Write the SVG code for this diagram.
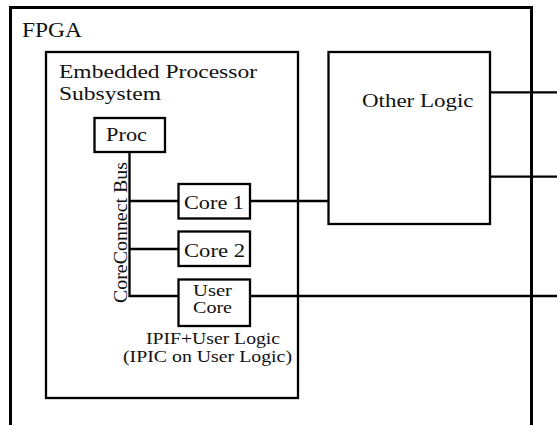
<svg xmlns="http://www.w3.org/2000/svg" width="557" height="425" viewBox="0 0 557 425">
<style>
  .box { fill: #fff; stroke: #000; stroke-width: 2.3; }
  .frame { fill: none; stroke: #000; stroke-width: 3; }
  .wire { fill: none; stroke: #000; stroke-width: 2.3; }
  text { font-family: "Liberation Serif", "Times New Roman", serif; font-size: 19px; fill: #111; }
  .tight { font-size: 17px; }
  .note { font-size: 16px; }
</style>
<rect width="557" height="425" fill="#fff"/>
<g id="fpga">
  <path class="frame" d="M10.5,427 V7.5 H531.5 V427"/>
  <text x="22" y="37.3" style="font-size:22px" textLength="60" lengthAdjust="spacingAndGlyphs">FPGA</text>
</g>
<g id="eps">
  <rect class="box" x="46" y="52" width="252" height="346"/>
  <text x="59" y="77.7" textLength="198" lengthAdjust="spacingAndGlyphs">Embedded Processor</text>
  <text x="59" y="100" textLength="102" lengthAdjust="spacingAndGlyphs">Subsystem</text>
</g>
<g id="other">
  <rect class="box" x="328.5" y="52" width="161.5" height="172"/>
  <text x="362" y="106.7" textLength="111.5" lengthAdjust="spacingAndGlyphs">Other Logic</text>
</g>
<g id="connectors">
  <path class="wire" d="M129.5,152 V296 H178.5"/>
  <path class="wire" d="M129.5,201 H178.5"/>
  <path class="wire" d="M129.5,249 H178.5"/>
  <path class="wire" d="M250,201 H328.5"/>
  <path class="wire" d="M250,296 H557"/>
  <path class="wire" d="M490,92.3 H557"/>
  <path class="wire" d="M490,176.7 H557"/>
  <text transform="translate(126.5,303) rotate(-90)" textLength="141" lengthAdjust="spacingAndGlyphs">CoreConnect Bus</text>
</g>
<g id="proc">
  <rect class="box" x="94.5" y="118" width="70.5" height="34"/>
  <text x="106" y="140.7" textLength="41" lengthAdjust="spacingAndGlyphs">Proc</text>
</g>
<g id="core1">
  <rect class="box" x="178.5" y="184" width="71.5" height="34.5"/>
  <text x="184" y="209.3" textLength="60" lengthAdjust="spacingAndGlyphs">Core 1</text>
</g>
<g id="core2">
  <rect class="box" x="178.5" y="231.5" width="71.5" height="34.5"/>
  <text x="184" y="256.7" textLength="61" lengthAdjust="spacingAndGlyphs">Core 2</text>
</g>
<g id="usercore">
  <rect class="box" x="178.5" y="279.5" width="71.5" height="46.5"/>
  <text class="tight"><tspan x="193" y="296" textLength="39" lengthAdjust="spacingAndGlyphs">User</tspan><tspan x="193" y="313.3" textLength="39" lengthAdjust="spacingAndGlyphs">Core</tspan></text>
  <text class="note" x="146" y="344" textLength="134" lengthAdjust="spacingAndGlyphs">IPIF+User Logic</text>
  <text class="note" x="123" y="361.5" textLength="169" lengthAdjust="spacingAndGlyphs">(IPIC on User Logic)</text>
</g>
</svg>
